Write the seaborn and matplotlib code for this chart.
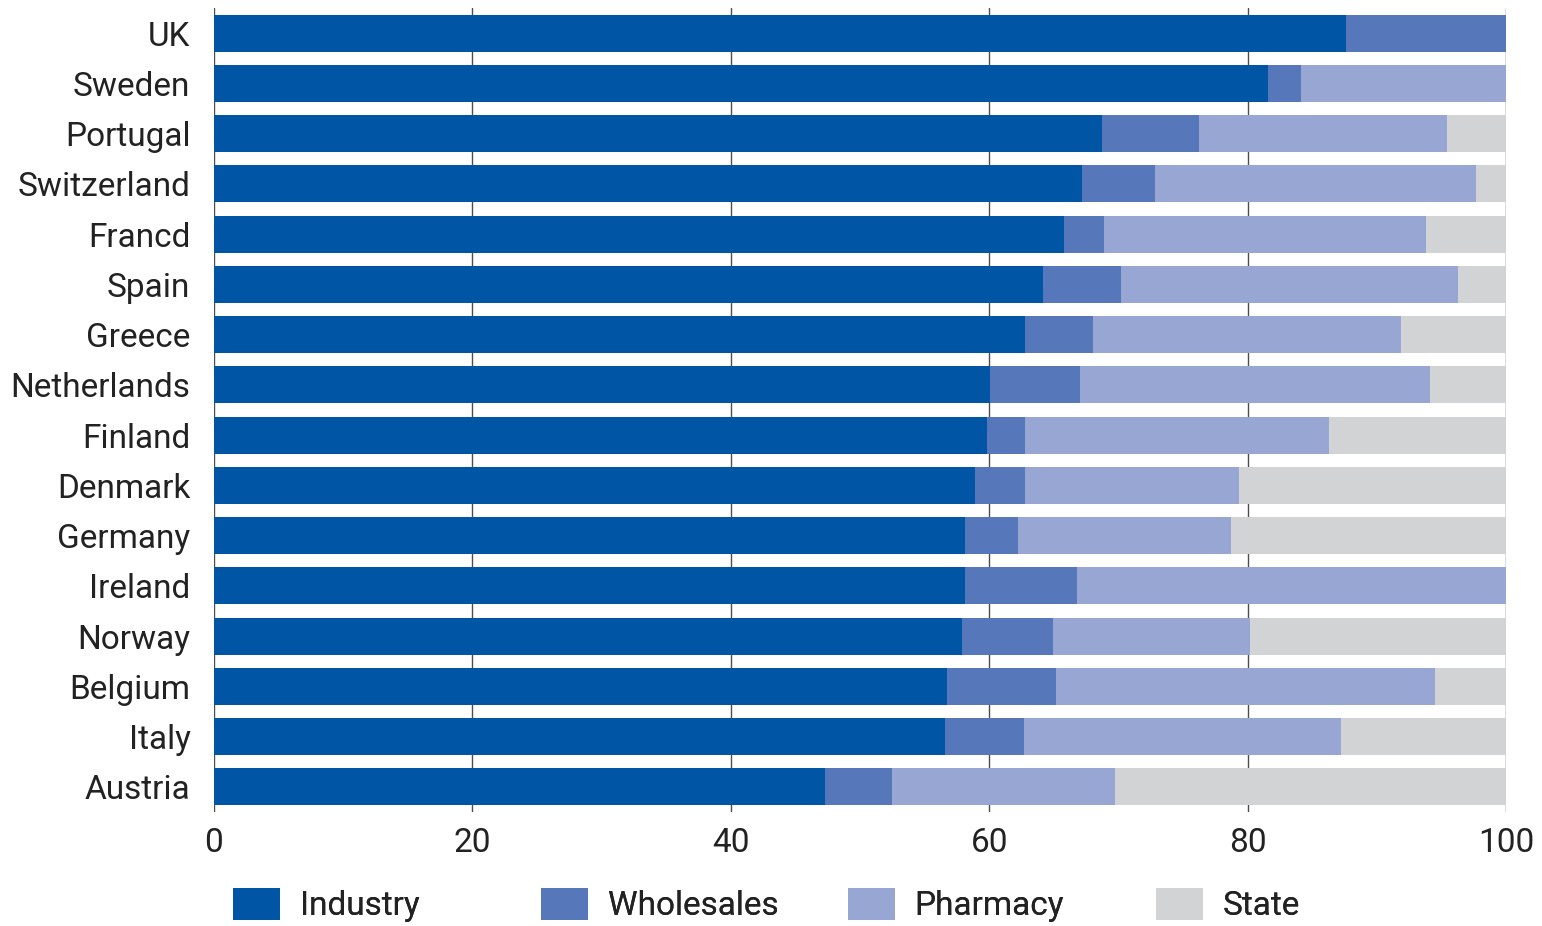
"""Stacked share chart: who gets the money from a medicine pack, by country."""

import matplotlib

matplotlib.use("Agg")
import matplotlib.pyplot as plt
from matplotlib.patches import Patch
import numpy as np
import pandas as pd
import seaborn as sns


COUNTRIES = [
    "UK", "Sweden", "Portugal", "Switzerland", "Francd", "Spain", "Greece",
    "Netherlands", "Finland", "Denmark", "Germany", "Ireland", "Norway",
    "Belgium", "Italy", "Austria",
]
INDUSTRY = [87.6, 81.6, 68.7, 67.2, 65.8, 64.2, 62.8, 60.1, 59.8, 58.9, 58.1, 58.1, 57.9, 56.7, 56.6, 47.3]
WHOLESALES = [12.4, 2.5, 7.5, 5.6, 3.1, 6.0, 5.2, 6.9, 3.0, 3.9, 4.1, 8.7, 7.0, 8.5, 6.1, 5.2]
PHARMACY = [0.0, 15.9, 19.2, 24.9, 24.9, 26.1, 23.9, 27.1, 23.5, 16.5, 16.5, 33.2, 15.3, 29.3, 24.5, 17.2]
STATE = [0.0, 0.0, 4.6, 2.3, 6.2, 3.7, 8.1, 5.9, 13.7, 20.7, 21.3, 0.0, 19.8, 5.5, 12.8, 30.3]

SEGMENTS = ["Industry", "Wholesales", "Pharmacy", "State"]
COLORS = {
    "Industry": "#0055A5",
    "Wholesales": "#5677BA",
    "Pharmacy": "#97A6D2",
    "State": "#D2D3D5",
}
TEXT = "#222222"
FONT_SIZE = 24

sns.set_style("white")
plt.rcParams["font.family"] = ["Roboto", "DejaVu Sans"]

data = pd.DataFrame(
    {
        "country": COUNTRIES,
        "Industry": INDUSTRY,
        "Wholesales": WHOLESALES,
        "Pharmacy": PHARMACY,
        "State": STATE,
    }
)
cumulative = data[SEGMENTS].cumsum(axis=1)
cumulative["country"] = data["country"]

fig = plt.figure(figsize=(15.42, 9.26), dpi=100)
ax = fig.add_axes([214 / 1542, 1 - 812 / 926, 1292 / 1542, 804 / 926])

# draw the running totals back to front so each segment sits on the next
for segment in reversed(SEGMENTS):
    sns.barplot(
        data=cumulative,
        x=segment,
        y="country",
        order=COUNTRIES,
        color=COLORS[segment],
        width=0.74,
        linewidth=0,
        saturation=1,
        errorbar=None,
        ax=ax,
    )

ax.set_xlim(0, 100)
ax.set_xticks(np.arange(0, 101, 20))
ax.set(xlabel="", ylabel="")
ax.set_axisbelow(True)
ax.grid(axis="x", color="#4d4d4d", linewidth=1)
ax.grid(axis="y", visible=False)
for spine in ax.spines.values():
    spine.set_visible(False)
ax.tick_params(axis="y", length=0, pad=17, labelsize=FONT_SIZE, labelcolor=TEXT)
ax.tick_params(axis="x", length=0, pad=11, labelsize=FONT_SIZE, labelcolor=TEXT)

legend_x = [233, 541, 848, 1156]
for segment, xpos in zip(SEGMENTS, legend_x):
    leg = fig.legend(
        handles=[Patch(facecolor=COLORS[segment], edgecolor="none", label=segment)],
        loc="center left",
        bbox_to_anchor=(xpos / 1542, 1 - 905 / 926),
        frameon=False,
        fontsize=FONT_SIZE,
        handlelength=1.4,
        handleheight=1.1,
        handletextpad=0.6,
        borderpad=0,
        borderaxespad=0,
        labelcolor=TEXT,
    )
    fig.add_artist(leg)

fig.savefig("out.png", dpi=100)
plt.close(fig)
